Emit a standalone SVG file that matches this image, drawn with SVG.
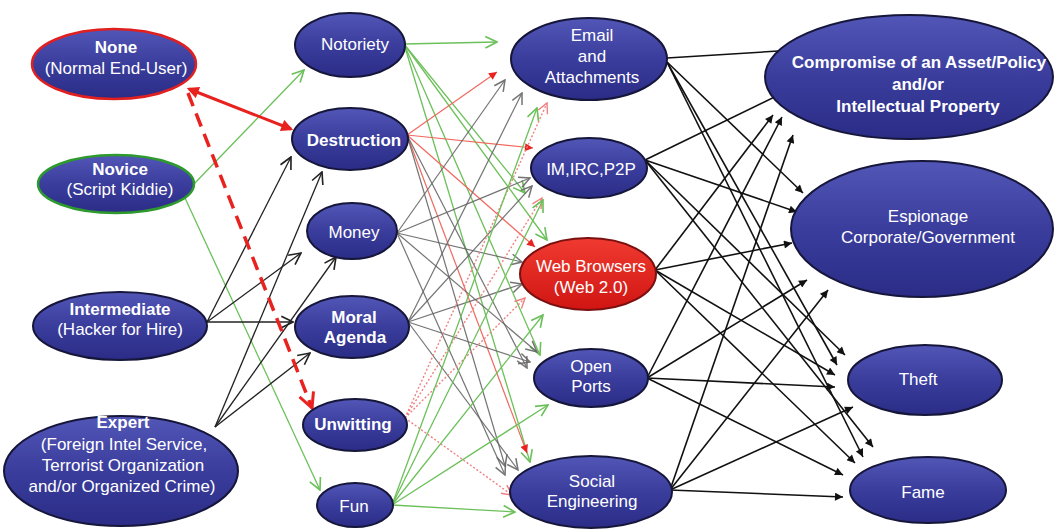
<svg xmlns="http://www.w3.org/2000/svg" width="1054" height="529" viewBox="0 0 1054 529">
<defs>
<linearGradient id="gB" x1="0" y1="0" x2="0" y2="1">
<stop offset="0" stop-color="#5256b6"/>
<stop offset="0.5" stop-color="#3a3d9c"/>
<stop offset="1" stop-color="#2a2c86"/>
</linearGradient>
<linearGradient id="gR" x1="0" y1="0" x2="0" y2="1">
<stop offset="0" stop-color="#f03a30"/>
<stop offset="1" stop-color="#d01512"/>
</linearGradient>
<marker id="tri" viewBox="0 0 10 10" refX="10" refY="5" markerWidth="11" markerHeight="8" markerUnits="userSpaceOnUse" orient="auto"><path d="M0,0 L10,5 L0,10 z" fill="#111"/></marker>
<marker id="triR" viewBox="0 0 10 10" refX="10" refY="5" markerWidth="10" markerHeight="8" markerUnits="userSpaceOnUse" orient="auto"><path d="M0,0 L10,5 L0,10 z" fill="#e8221e"/></marker>
<marker id="triRB" viewBox="0 0 10 10" refX="8" refY="5" markerWidth="14" markerHeight="12" markerUnits="userSpaceOnUse" orient="auto-start-reverse"><path d="M0,0 L10,5 L0,10 z" fill="#e8221e"/></marker>
<marker id="chR" viewBox="0 0 12 12" refX="11" refY="6" markerWidth="18" markerHeight="18" markerUnits="userSpaceOnUse" orient="auto"><path d="M1,1 L11,6 L1,11" fill="none" stroke="#e8221e" stroke-width="2"/></marker>
<marker id="chK" viewBox="0 0 12 12" refX="11" refY="6" markerWidth="14" markerHeight="14" markerUnits="userSpaceOnUse" orient="auto"><path d="M1,1 L11,6 L1,11" fill="none" stroke="#222" stroke-width="1.4"/></marker>
<marker id="chG" viewBox="0 0 12 12" refX="11" refY="6" markerWidth="14" markerHeight="14" markerUnits="userSpaceOnUse" orient="auto"><path d="M1,1 L11,6 L1,11" fill="none" stroke="#6cc05a" stroke-width="1.4"/></marker>
<marker id="chY" viewBox="0 0 12 12" refX="11" refY="6" markerWidth="13" markerHeight="13" markerUnits="userSpaceOnUse" orient="auto"><path d="M1,1 L11,6 L1,11" fill="none" stroke="#666" stroke-width="1.4"/></marker>
<marker id="chP" viewBox="0 0 12 12" refX="11" refY="6" markerWidth="12" markerHeight="12" markerUnits="userSpaceOnUse" orient="auto"><path d="M1,1 L11,6 L1,11" fill="none" stroke="#f08080" stroke-width="1.4"/></marker>
</defs>
<style>
.n{fill:url(#gB);stroke:#16163a;stroke-width:2}
.nr{fill:url(#gR);stroke:#7a1010;stroke-width:2}
text{font-family:"Liberation Sans",Arial,sans-serif;font-size:17px;fill:#fff;text-anchor:middle}
.b{font-weight:bold}
.k{fill:none;stroke:#111;stroke-width:1.6;marker-end:url(#tri)}
.kl{fill:none;stroke:#222;stroke-width:1.3;marker-end:url(#chK)}
.g{fill:none;stroke:#6cc05a;stroke-width:1.3;marker-end:url(#chG)}
.y{fill:none;stroke:#666;stroke-width:1.2;marker-end:url(#chY);opacity:0.9}
.r{fill:none;stroke:#f06a60;stroke-width:1.2;marker-end:url(#triR)}
.p{fill:none;stroke:#f08080;stroke-width:1.4;stroke-dasharray:2 2;marker-end:url(#chP)}
</style>
<rect width="1054" height="529" fill="#fff"/>
<g id="connectors">
<!-- left -> motivations -->
<line class="g" x1="193" y1="185" x2="304" y2="70"/>
<line class="g" x1="185" y1="198" x2="320" y2="490"/>
<line class="kl" x1="207" y1="322" x2="291" y2="157"/>
<line class="kl" x1="207" y1="322" x2="301" y2="253"/>
<line class="kl" x1="207" y1="322" x2="293" y2="322"/>
<line class="kl" x1="215" y1="427" x2="322" y2="172"/>
<line class="kl" x1="215" y1="427" x2="336" y2="257"/>
<line class="kl" x1="215" y1="427" x2="310" y2="353"/>
<line x1="189" y1="89" x2="291" y2="129" fill="none" stroke="#e8221e" stroke-width="3" marker-start="url(#triRB)" marker-end="url(#triRB)"/>
<line x1="188" y1="93" x2="312" y2="408" fill="none" stroke="#e8221e" stroke-width="3.5" stroke-dasharray="14 8" marker-end="url(#chR)"/>
<!-- motivations -> vectors -->
<line class="g" x1="404" y1="44" x2="497" y2="42"/>
<line class="g" x1="404" y1="44" x2="525" y2="193"/>
<line class="g" x1="404" y1="44" x2="547" y2="240"/>
<line class="g" x1="404" y1="44" x2="540" y2="355"/>
<line class="g" x1="404" y1="44" x2="530" y2="462"/>
<line class="r" x1="407" y1="135" x2="497" y2="72"/>
<line class="r" x1="407" y1="135" x2="533" y2="148"/>
<line class="r" x1="407" y1="135" x2="535" y2="247"/>
<line class="r" x1="407" y1="135" x2="527" y2="453"/>
<line class="y" x1="407" y1="135" x2="527" y2="368"/>
<line class="y" x1="407" y1="135" x2="505" y2="466"/>
<line class="y" x1="397" y1="233" x2="505" y2="80"/>
<line class="y" x1="397" y1="233" x2="530" y2="178"/>
<line class="y" x1="397" y1="233" x2="522" y2="262"/>
<line class="y" x1="397" y1="233" x2="537" y2="352"/>
<line class="y" x1="397" y1="233" x2="505" y2="475"/>
<line class="y" x1="408" y1="322" x2="522" y2="93"/>
<line class="y" x1="408" y1="322" x2="532" y2="186"/>
<line class="y" x1="408" y1="322" x2="522" y2="284"/>
<line class="y" x1="408" y1="322" x2="530" y2="362"/>
<line class="y" x1="408" y1="322" x2="518" y2="470"/>
<line class="p" x1="405" y1="418" x2="547" y2="103"/>
<line class="p" x1="405" y1="418" x2="542" y2="198"/>
<line class="p" x1="405" y1="418" x2="525" y2="298"/>
<line class="p" x1="405" y1="418" x2="512" y2="495"/>
<line class="g" x1="392" y1="505" x2="537" y2="108"/>
<line class="g" x1="392" y1="505" x2="543" y2="200"/>
<line class="g" x1="392" y1="505" x2="543" y2="315"/>
<line class="g" x1="392" y1="505" x2="548" y2="405"/>
<line class="g" x1="392" y1="505" x2="515" y2="512"/>
<!-- vectors -> outcomes -->
<line class="k" x1="667" y1="58" x2="795" y2="50"/>
<line class="k" x1="667" y1="62" x2="803" y2="193"/>
<line class="k" x1="667" y1="62" x2="837" y2="365"/>
<line class="k" x1="667" y1="62" x2="863" y2="457"/>
<line class="k" x1="645" y1="160" x2="795" y2="87"/>
<line class="k" x1="645" y1="160" x2="797" y2="212"/>
<line class="k" x1="645" y1="160" x2="845" y2="355"/>
<line class="k" x1="645" y1="160" x2="873" y2="447"/>
<line class="k" x1="655" y1="270" x2="773" y2="115"/>
<line class="k" x1="655" y1="270" x2="792" y2="243"/>
<line class="k" x1="655" y1="270" x2="835" y2="375"/>
<line class="k" x1="655" y1="270" x2="855" y2="463"/>
<line class="k" x1="647" y1="378" x2="782" y2="117"/>
<line class="k" x1="647" y1="378" x2="807" y2="280"/>
<line class="k" x1="647" y1="378" x2="835" y2="387"/>
<line class="k" x1="647" y1="378" x2="843" y2="475"/>
<line class="k" x1="670" y1="490" x2="793" y2="135"/>
<line class="k" x1="670" y1="490" x2="828" y2="290"/>
<line class="k" x1="670" y1="490" x2="853" y2="407"/>
<line class="k" x1="670" y1="490" x2="843" y2="497"/>
</g>
<g id="none"><ellipse cx="114" cy="64" rx="82" ry="35" class="n" style="stroke:#e02020;stroke-width:2.5"/><text x="116" y="53" class="b">None</text><text x="116" y="74">(Normal End-User)</text></g>
<g id="novice"><ellipse cx="116" cy="184" rx="78" ry="29" class="n" style="stroke:#2e9a2e;stroke-width:2.5"/><text x="120" y="175" class="b">Novice</text><text x="120" y="195">(Script Kiddie)</text></g>
<g id="intermediate"><ellipse cx="120" cy="326" rx="87" ry="34" class="n"/><text x="120" y="315" class="b">Intermediate</text><text x="120" y="335">(Hacker for Hire)</text></g>
<g id="expert"><ellipse cx="121" cy="471" rx="117" ry="55" class="n"/><text x="123" y="428" class="b">Expert</text><text x="124" y="450">(Foreign Intel Service,</text><text x="123" y="471">Terrorist Organization</text><text x="122" y="492">and/or Organized Crime)</text></g>
<g id="notoriety"><ellipse cx="350" cy="45" rx="55" ry="32" class="n"/><text x="355" y="50">Notoriety</text></g>
<g id="destruction"><ellipse cx="350" cy="139" rx="58" ry="31" class="n"/><text x="354" y="146" class="b">Destruction</text></g>
<g id="money"><ellipse cx="352" cy="231" rx="45" ry="28" class="n"/><text x="354" y="238">Money</text></g>
<g id="moral"><ellipse cx="352" cy="327" rx="57" ry="31" class="n"/><text x="354" y="323" class="b">Moral</text><text x="355" y="343" class="b">Agenda</text></g>
<g id="unwitting"><ellipse cx="355" cy="425" rx="52" ry="26" class="n"/><text x="353" y="430" class="b">Unwitting</text></g>
<g id="fun"><ellipse cx="355" cy="505" rx="38" ry="22" class="n"/><text x="354" y="512">Fun</text></g>
<g id="email"><ellipse cx="589" cy="59" rx="78" ry="41" class="n"/><text x="592" y="41">Email</text><text x="592" y="62">and</text><text x="592" y="83">Attachments</text></g>
<g id="im"><ellipse cx="589" cy="168" rx="58" ry="30" class="n"/><text x="591" y="175">IM,IRC,P2P</text></g>
<g id="web"><ellipse cx="588" cy="274" rx="68" ry="36" class="nr"/><text x="591" y="272">Web Browsers</text><text x="591" y="293">(Web 2.0)</text></g>
<g id="open"><ellipse cx="591" cy="378" rx="57" ry="29" class="n"/><text x="591" y="372">Open</text><text x="591" y="392">Ports</text></g>
<g id="social"><ellipse cx="591" cy="492" rx="81" ry="36" class="n"/><text x="592" y="487">Social</text><text x="592" y="507">Engineering</text></g>
<g id="compromise"><ellipse cx="909" cy="77" rx="144" ry="62" class="n"/><text x="919" y="68" class="b">Compromise of an Asset/Policy</text><text x="918" y="90" class="b">and/or</text><text x="918" y="112" class="b">Intellectual Property</text></g>
<g id="espionage"><ellipse cx="922" cy="229" rx="131" ry="68" class="n"/><text x="928" y="222">Espionage</text><text x="928" y="243">Corporate/Government</text></g>
<g id="theft"><ellipse cx="925" cy="380" rx="77" ry="35" class="n"/><text x="918" y="385">Theft</text></g>
<g id="fame"><ellipse cx="928" cy="490" rx="78" ry="33" class="n"/><text x="923" y="498">Fame</text></g>
</svg>
